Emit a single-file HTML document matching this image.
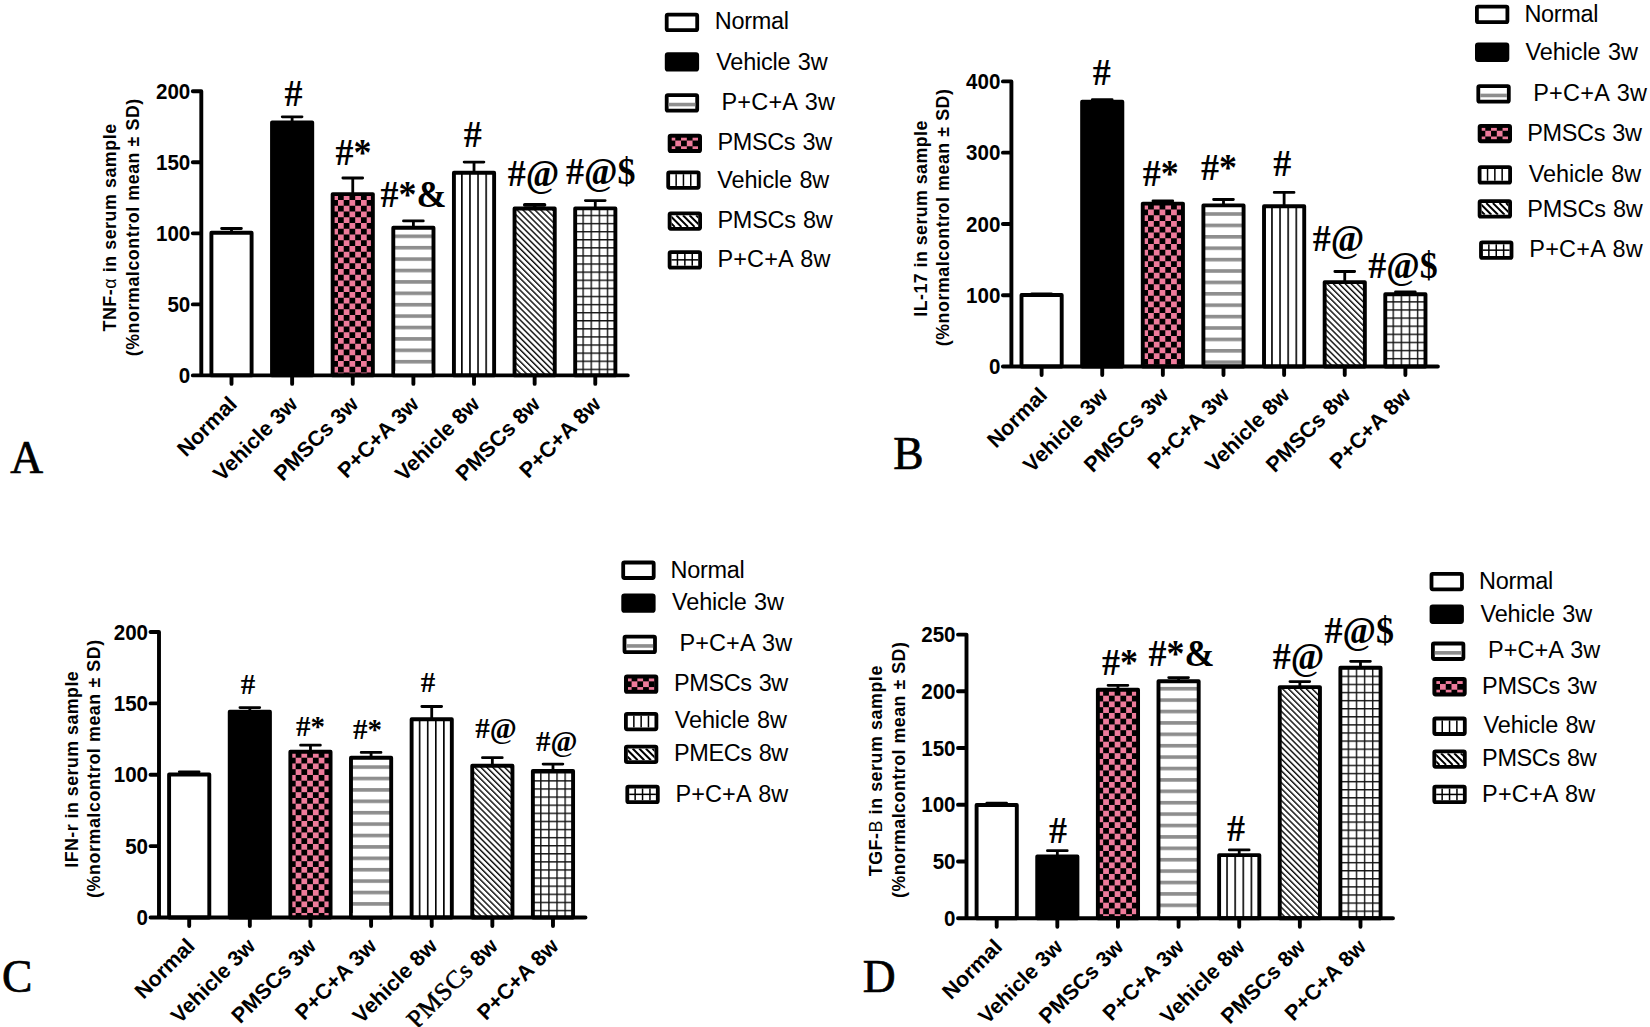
<!DOCTYPE html>
<html lang="en"><head><meta charset="utf-8"><title>Figure</title>
<style>
html,body{margin:0;padding:0;background:#fff;}
body{width:1650px;height:1027px;overflow:hidden;}
svg{display:block;}
text{fill:#000;}
</style></head><body>
<svg width="1650" height="1027" viewBox="0 0 1650 1027">
<rect width="1650" height="1027" fill="#fff"/>
<defs>
<pattern id="p1" patternUnits="userSpaceOnUse" x="326.46" y="194.25" width="11.5" height="11.5"><rect width="11.5" height="11.5" fill="#ee7b9b"/><rect x="0" y="0" width="5.75" height="5.75" fill="#000"/><rect x="5.75" y="5.75" width="5.75" height="5.75" fill="#000"/></pattern>
<pattern id="p2" patternUnits="userSpaceOnUse" x="393.29" y="17.90" width="11.4" height="11.4"><rect width="11.4" height="11.4" fill="#fff"/><rect x="0" y="0" width="11.4" height="3.6" fill="#8e8e8e"/></pattern>
<pattern id="p3" patternUnits="userSpaceOnUse" x="452.97" y="172.70" width="8.1" height="8.1"><rect width="8.1" height="8.1" fill="#fff"/><rect x="0" y="0" width="1.6" height="8.1" fill="#000"/></pattern>
<pattern id="p4" patternUnits="userSpaceOnUse" x="514.55" y="208.50" width="4.2" height="4.2" patternTransform="rotate(-45 514.55 208.50)"><rect width="4.2" height="4.2" fill="#fff"/><rect x="0" y="0" width="1.45" height="4.2" fill="#111"/></pattern>
<pattern id="p5" patternUnits="userSpaceOnUse" x="574.33" y="44.65" width="8.1" height="8.1"><rect width="8.1" height="8.1" fill="#fff"/><rect x="0" y="0" width="1.4" height="8.1" fill="#111"/><rect x="0" y="0" width="8.1" height="1.4" fill="#111"/></pattern>
<pattern id="p6" patternUnits="userSpaceOnUse" x="663.80" y="134.80" width="11.5" height="11.5"><rect width="11.5" height="11.5" fill="#ee7b9b"/><rect x="0" y="0" width="5.75" height="5.75" fill="#000"/><rect x="5.75" y="5.75" width="5.75" height="5.75" fill="#000"/></pattern>
<clipPath id="c7"><rect x="671.50" y="215.20" width="26.70" height="11.70"/></clipPath>
<pattern id="p8" patternUnits="userSpaceOnUse" x="1136.56" y="203.75" width="11.5" height="11.5"><rect width="11.5" height="11.5" fill="#ee7b9b"/><rect x="0" y="0" width="5.75" height="5.75" fill="#000"/><rect x="5.75" y="5.75" width="5.75" height="5.75" fill="#000"/></pattern>
<pattern id="p9" patternUnits="userSpaceOnUse" x="1203.39" y="18.40" width="11.4" height="11.4"><rect width="11.4" height="11.4" fill="#fff"/><rect x="0" y="0" width="11.4" height="3.6" fill="#8e8e8e"/></pattern>
<pattern id="p10" patternUnits="userSpaceOnUse" x="1263.07" y="206.20" width="8.1" height="8.1"><rect width="8.1" height="8.1" fill="#fff"/><rect x="0" y="0" width="1.6" height="8.1" fill="#000"/></pattern>
<pattern id="p11" patternUnits="userSpaceOnUse" x="1324.65" y="282.10" width="4.2" height="4.2" patternTransform="rotate(-45 1324.65 282.10)"><rect width="4.2" height="4.2" fill="#fff"/><rect x="0" y="0" width="1.45" height="4.2" fill="#111"/></pattern>
<pattern id="p12" patternUnits="userSpaceOnUse" x="1384.43" y="33.90" width="8.1" height="8.1"><rect width="8.1" height="8.1" fill="#fff"/><rect x="0" y="0" width="1.4" height="8.1" fill="#111"/><rect x="0" y="0" width="8.1" height="1.4" fill="#111"/></pattern>
<pattern id="p13" patternUnits="userSpaceOnUse" x="1473.80" y="125.00" width="11.5" height="11.5"><rect width="11.5" height="11.5" fill="#ee7b9b"/><rect x="0" y="0" width="5.75" height="5.75" fill="#000"/><rect x="5.75" y="5.75" width="5.75" height="5.75" fill="#000"/></pattern>
<clipPath id="c14"><rect x="1481.50" y="203.10" width="26.70" height="11.70"/></clipPath>
<pattern id="p15" patternUnits="userSpaceOnUse" x="284.16" y="751.95" width="11.5" height="11.5"><rect width="11.5" height="11.5" fill="#ee7b9b"/><rect x="0" y="0" width="5.75" height="5.75" fill="#000"/><rect x="5.75" y="5.75" width="5.75" height="5.75" fill="#000"/></pattern>
<pattern id="p16" patternUnits="userSpaceOnUse" x="350.99" y="560.10" width="11.4" height="11.4"><rect width="11.4" height="11.4" fill="#fff"/><rect x="0" y="0" width="11.4" height="3.6" fill="#8e8e8e"/></pattern>
<pattern id="p17" patternUnits="userSpaceOnUse" x="410.67" y="719.30" width="8.1" height="8.1"><rect width="8.1" height="8.1" fill="#fff"/><rect x="0" y="0" width="1.6" height="8.1" fill="#000"/></pattern>
<pattern id="p18" patternUnits="userSpaceOnUse" x="472.25" y="765.70" width="4.2" height="4.2" patternTransform="rotate(-45 472.25 765.70)"><rect width="4.2" height="4.2" fill="#fff"/><rect x="0" y="0" width="1.45" height="4.2" fill="#111"/></pattern>
<pattern id="p19" patternUnits="userSpaceOnUse" x="532.03" y="585.80" width="8.1" height="8.1"><rect width="8.1" height="8.1" fill="#fff"/><rect x="0" y="0" width="1.4" height="8.1" fill="#111"/><rect x="0" y="0" width="8.1" height="1.4" fill="#111"/></pattern>
<pattern id="p20" patternUnits="userSpaceOnUse" x="620.10" y="675.60" width="11.5" height="11.5"><rect width="11.5" height="11.5" fill="#ee7b9b"/><rect x="0" y="0" width="5.75" height="5.75" fill="#000"/><rect x="5.75" y="5.75" width="5.75" height="5.75" fill="#000"/></pattern>
<clipPath id="c21"><rect x="627.80" y="748.50" width="26.70" height="11.70"/></clipPath>
<pattern id="p22" patternUnits="userSpaceOnUse" x="1091.66" y="689.95" width="11.5" height="11.5"><rect width="11.5" height="11.5" fill="#ee7b9b"/><rect x="0" y="0" width="5.75" height="5.75" fill="#000"/><rect x="5.75" y="5.75" width="5.75" height="5.75" fill="#000"/></pattern>
<pattern id="p23" patternUnits="userSpaceOnUse" x="1158.49" y="561.50" width="11.4" height="11.4"><rect width="11.4" height="11.4" fill="#fff"/><rect x="0" y="0" width="11.4" height="3.6" fill="#8e8e8e"/></pattern>
<pattern id="p24" patternUnits="userSpaceOnUse" x="1218.17" y="855.10" width="8.1" height="8.1"><rect width="8.1" height="8.1" fill="#fff"/><rect x="0" y="0" width="1.6" height="8.1" fill="#000"/></pattern>
<pattern id="p25" patternUnits="userSpaceOnUse" x="1279.75" y="687.10" width="4.2" height="4.2" patternTransform="rotate(-45 1279.75 687.10)"><rect width="4.2" height="4.2" fill="#fff"/><rect x="0" y="0" width="1.45" height="4.2" fill="#111"/></pattern>
<pattern id="p26" patternUnits="userSpaceOnUse" x="1339.53" y="586.50" width="8.1" height="8.1"><rect width="8.1" height="8.1" fill="#fff"/><rect x="0" y="0" width="1.4" height="8.1" fill="#111"/><rect x="0" y="0" width="8.1" height="1.4" fill="#111"/></pattern>
<pattern id="p27" patternUnits="userSpaceOnUse" x="1428.50" y="678.20" width="11.5" height="11.5"><rect width="11.5" height="11.5" fill="#ee7b9b"/><rect x="0" y="0" width="5.75" height="5.75" fill="#000"/><rect x="5.75" y="5.75" width="5.75" height="5.75" fill="#000"/></pattern>
<clipPath id="c28"><rect x="1436.20" y="753.20" width="26.70" height="11.70"/></clipPath>
</defs>
<path d="M231.50 232.80V228.50M221.60 228.50H241.40" stroke="#000" stroke-width="2.8" stroke-linecap="round" fill="none"/>
<rect x="211.40" y="232.80" width="40.2" height="142.60" fill="#fff" stroke="#000" stroke-width="3.9" stroke-linejoin="round"/>
<path d="M292.13 122.40V116.80M282.23 116.80H302.03" stroke="#000" stroke-width="2.8" stroke-linecap="round" fill="none"/>
<rect x="272.03" y="122.40" width="40.2" height="253.00" fill="#000" stroke="#000" stroke-width="3.9" stroke-linejoin="round"/>
<path d="M352.76 194.10V178.00M342.86 178.00H362.66" stroke="#000" stroke-width="2.8" stroke-linecap="round" fill="none"/>
<rect x="332.66" y="194.10" width="40.2" height="181.30" fill="url(#p1)" stroke="#000" stroke-width="3.9" stroke-linejoin="round"/>
<path d="M413.39 227.70V220.90M403.49 220.90H423.29" stroke="#000" stroke-width="2.8" stroke-linecap="round" fill="none"/>
<rect x="393.29" y="227.70" width="40.2" height="147.70" fill="url(#p2)" stroke="#000" stroke-width="3.9" stroke-linejoin="round"/>
<rect x="395.09" y="370.80" width="36.60" height="3" fill="#fff"/>
<path d="M474.02 172.70V162.10M464.12 162.10H483.92" stroke="#000" stroke-width="2.8" stroke-linecap="round" fill="none"/>
<rect x="453.92" y="172.70" width="40.2" height="202.70" fill="url(#p3)" stroke="#000" stroke-width="3.9" stroke-linejoin="round"/>
<path d="M534.65 208.50V204.90M524.75 204.90H544.55" stroke="#000" stroke-width="3.6" stroke-linecap="round" fill="none"/>
<rect x="514.55" y="208.50" width="40.2" height="166.90" fill="url(#p4)" stroke="#000" stroke-width="3.9" stroke-linejoin="round"/>
<path d="M595.28 208.40V200.60M585.38 200.60H605.18" stroke="#000" stroke-width="2.8" stroke-linecap="round" fill="none"/>
<rect x="575.18" y="208.40" width="40.2" height="167.00" fill="url(#p5)" stroke="#000" stroke-width="3.9" stroke-linejoin="round"/>
<path d="M201.30 375.40V91.30M201.30 375.40h-8.5M201.30 304.38h-8.5M201.30 233.35h-8.5M201.30 162.32h-8.5M201.30 91.30h-8.5M192.80 375.40H627.80M231.50 375.40v8.5M292.13 375.40v8.5M352.76 375.40v8.5M413.39 375.40v8.5M474.02 375.40v8.5M534.65 375.40v8.5M595.28 375.40v8.5" stroke="#000" stroke-width="3.9" stroke-linecap="round" stroke-linejoin="round" fill="none"/>
<text transform="translate(190.30 383.00) scale(0.935 1)" font-family="'Liberation Sans', Arial, Helvetica, sans-serif" font-size="22" font-weight="bold" text-anchor="end" >0</text>
<text transform="translate(190.30 311.98) scale(0.935 1)" font-family="'Liberation Sans', Arial, Helvetica, sans-serif" font-size="22" font-weight="bold" text-anchor="end" >50</text>
<text transform="translate(190.30 240.95) scale(0.935 1)" font-family="'Liberation Sans', Arial, Helvetica, sans-serif" font-size="22" font-weight="bold" text-anchor="end" >100</text>
<text transform="translate(190.30 169.92) scale(0.935 1)" font-family="'Liberation Sans', Arial, Helvetica, sans-serif" font-size="22" font-weight="bold" text-anchor="end" >150</text>
<text transform="translate(190.30 98.90) scale(0.935 1)" font-family="'Liberation Sans', Arial, Helvetica, sans-serif" font-size="22" font-weight="bold" text-anchor="end" >200</text>
<text transform="translate(238.30 405.40) rotate(-45)" font-family="'Liberation Sans', Arial, Helvetica, sans-serif" font-size="21.5" font-weight="bold" text-anchor="end" >Normal</text>
<text transform="translate(298.93 405.40) rotate(-45)" font-family="'Liberation Sans', Arial, Helvetica, sans-serif" font-size="21.5" font-weight="bold" text-anchor="end" >Vehicle 3w</text>
<text transform="translate(359.56 405.40) rotate(-45)" font-family="'Liberation Sans', Arial, Helvetica, sans-serif" font-size="21.5" font-weight="bold" text-anchor="end" >PMSCs 3w</text>
<text transform="translate(420.19 405.40) rotate(-45)" font-family="'Liberation Sans', Arial, Helvetica, sans-serif" font-size="21.5" font-weight="bold" text-anchor="end" >P+C+A 3w</text>
<text transform="translate(480.82 405.40) rotate(-45)" font-family="'Liberation Sans', Arial, Helvetica, sans-serif" font-size="21.5" font-weight="bold" text-anchor="end" >Vehicle 8w</text>
<text transform="translate(541.45 405.40) rotate(-45)" font-family="'Liberation Sans', Arial, Helvetica, sans-serif" font-size="21.5" font-weight="bold" text-anchor="end" >PMSCs 8w</text>
<text transform="translate(602.08 405.40) rotate(-45)" font-family="'Liberation Sans', Arial, Helvetica, sans-serif" font-size="21.5" font-weight="bold" text-anchor="end" >P+C+A 8w</text>
<text transform="translate(116.40 227.70) rotate(-90)" font-family="'Liberation Sans', Arial, Helvetica, sans-serif" font-size="17.8" font-weight="bold" text-anchor="middle" textLength="207.60" lengthAdjust="spacing" >TNF-<tspan font-weight="normal">α</tspan> in serum sample</text>
<text transform="translate(139.40 227.50) rotate(-90)" font-family="'Liberation Sans', Arial, Helvetica, sans-serif" font-size="17.8" font-weight="bold" text-anchor="middle" textLength="257.60" lengthAdjust="spacing" >(%normalcontrol mean ± SD)</text>
<text transform="translate(293.40 105.90) scale(1 1.05)" font-family="'Liberation Serif', 'Times New Roman', Times, serif" font-size="36" font-weight="bold" text-anchor="middle" >#</text>
<text transform="translate(353.40 165.00) scale(1 1.05)" font-family="'Liberation Serif', 'Times New Roman', Times, serif" font-size="36" font-weight="bold" text-anchor="middle" >#*</text>
<text transform="translate(413.60 207.10) scale(1 1.05)" font-family="'Liberation Serif', 'Times New Roman', Times, serif" font-size="36" font-weight="bold" text-anchor="middle" >#*&amp;</text>
<text transform="translate(472.70 146.80) scale(1 1.05)" font-family="'Liberation Serif', 'Times New Roman', Times, serif" font-size="36" font-weight="bold" text-anchor="middle" >#</text>
<text transform="translate(533.60 186.30) scale(1 1.05)" font-family="'Liberation Serif', 'Times New Roman', Times, serif" font-size="36" font-weight="bold" text-anchor="middle" >#@</text>
<text transform="translate(600.70 183.50) scale(1 1.05)" font-family="'Liberation Serif', 'Times New Roman', Times, serif" font-size="36" font-weight="bold" text-anchor="middle" >#@$</text>
<rect x="666.70" y="14.60" width="30.5" height="15.5" rx="1.2" fill="#fff" stroke="#000" stroke-width="3.8"/>
<text transform="translate(714.70 29.40) scale(1.03 1.05)" font-family="'Liberation Sans', Arial, Helvetica, sans-serif" font-size="22.8" font-weight="normal" text-anchor="start" textLength="72.23" lengthAdjust="spacing" word-spacing="1">Normal</text>
<rect x="666.70" y="54.20" width="30.5" height="15.5" rx="1.2" fill="#000" stroke="#000" stroke-width="3.8"/>
<text transform="translate(716.20 69.50) scale(1.03 1.05)" font-family="'Liberation Sans', Arial, Helvetica, sans-serif" font-size="22.8" font-weight="normal" text-anchor="start" textLength="108.16" lengthAdjust="spacing" word-spacing="1">Vehicle 3w</text>
<rect x="666.70" y="95.20" width="30.5" height="15.5" rx="1.2" fill="#fff" stroke="#000" stroke-width="3.8"/>
<rect x="668.60" y="102.75" width="26.70" height="3.6" fill="#8e8e8e"/>
<text transform="translate(721.40 109.90) scale(1.03 1.05)" font-family="'Liberation Sans', Arial, Helvetica, sans-serif" font-size="22.8" font-weight="normal" text-anchor="start" textLength="110.29" lengthAdjust="spacing" word-spacing="1">P+C+A 3w</text>
<rect x="669.60" y="135.60" width="30.5" height="15.5" rx="1.2" fill="#000" stroke="#000" stroke-width="3.8"/>
<rect x="671.70" y="137.70" width="26.30" height="11.30" fill="url(#p6)"/>
<text transform="translate(717.50 150.30) scale(1.03 1.05)" font-family="'Liberation Sans', Arial, Helvetica, sans-serif" font-size="22.8" font-weight="normal" text-anchor="start" textLength="111.26" lengthAdjust="spacing" word-spacing="1">PMSCs 3w</text>
<rect x="668.20" y="172.30" width="30.5" height="15.5" rx="1.2" fill="#fff" stroke="#000" stroke-width="3.8"/>
<rect x="675.40" y="174.20" width="1.5" height="11.70" fill="#000"/>
<rect x="682.70" y="174.20" width="1.5" height="11.70" fill="#000"/>
<rect x="690.00" y="174.20" width="1.5" height="11.70" fill="#000"/>
<text transform="translate(717.30 187.60) scale(1.03 1.05)" font-family="'Liberation Sans', Arial, Helvetica, sans-serif" font-size="22.8" font-weight="normal" text-anchor="start" textLength="108.74" lengthAdjust="spacing" word-spacing="1">Vehicle 8w</text>
<rect x="669.60" y="213.30" width="30.5" height="15.5" rx="1.2" fill="#fff" stroke="#000" stroke-width="3.8"/>
<path d="M656.50 215.20l11.70 11.70M663.10 215.20l11.70 11.70M669.70 215.20l11.70 11.70M676.30 215.20l11.70 11.70M682.90 215.20l11.70 11.70M689.50 215.20l11.70 11.70M696.10 215.20l11.70 11.70" stroke="#000" stroke-width="2" clip-path="url(#c7)"/>
<text transform="translate(717.50 227.90) scale(1.03 1.05)" font-family="'Liberation Sans', Arial, Helvetica, sans-serif" font-size="22.8" font-weight="normal" text-anchor="start" textLength="111.84" lengthAdjust="spacing" word-spacing="1">PMSCs 8w</text>
<rect x="669.60" y="252.10" width="30.5" height="15.5" rx="1.2" fill="#fff" stroke="#000" stroke-width="3.8"/>
<rect x="676.70" y="254.00" width="1.5" height="11.70" fill="#000"/>
<rect x="684.10" y="254.00" width="1.5" height="11.70" fill="#000"/>
<rect x="691.50" y="254.00" width="1.5" height="11.70" fill="#000"/>
<rect x="671.50" y="259.10" width="26.70" height="1.5" fill="#000"/>
<text transform="translate(717.50 266.60) scale(1.03 1.05)" font-family="'Liberation Sans', Arial, Helvetica, sans-serif" font-size="22.8" font-weight="normal" text-anchor="start" textLength="109.61" lengthAdjust="spacing" word-spacing="1">P+C+A 8w</text>
<text x="10.30" y="472.70" font-family="'Liberation Serif', 'Times New Roman', Times, serif" font-size="45.5" font-weight="normal" text-anchor="start" stroke="#000" stroke-width="0.7">A</text>
<path d="M1041.60 295.00V294.00M1031.70 294.00H1051.50" stroke="#000" stroke-width="2.8" stroke-linecap="round" fill="none"/>
<rect x="1021.50" y="295.00" width="40.2" height="71.50" fill="#fff" stroke="#000" stroke-width="3.9" stroke-linejoin="round"/>
<path d="M1102.23 101.80V99.60M1092.33 99.60H1112.13" stroke="#000" stroke-width="2.8" stroke-linecap="round" fill="none"/>
<rect x="1082.13" y="101.80" width="40.2" height="264.70" fill="#000" stroke="#000" stroke-width="3.9" stroke-linejoin="round"/>
<path d="M1162.86 203.60V200.90M1152.96 200.90H1172.76" stroke="#000" stroke-width="2.8" stroke-linecap="round" fill="none"/>
<rect x="1142.76" y="203.60" width="40.2" height="162.90" fill="url(#p8)" stroke="#000" stroke-width="3.9" stroke-linejoin="round"/>
<path d="M1223.49 205.40V199.50M1213.59 199.50H1233.39" stroke="#000" stroke-width="2.8" stroke-linecap="round" fill="none"/>
<rect x="1203.39" y="205.40" width="40.2" height="161.10" fill="url(#p9)" stroke="#000" stroke-width="3.9" stroke-linejoin="round"/>
<path d="M1284.12 206.20V192.40M1274.22 192.40H1294.02" stroke="#000" stroke-width="2.8" stroke-linecap="round" fill="none"/>
<rect x="1264.02" y="206.20" width="40.2" height="160.30" fill="url(#p10)" stroke="#000" stroke-width="3.9" stroke-linejoin="round"/>
<path d="M1344.75 282.10V271.50M1334.85 271.50H1354.65" stroke="#000" stroke-width="2.8" stroke-linecap="round" fill="none"/>
<rect x="1324.65" y="282.10" width="40.2" height="84.40" fill="url(#p11)" stroke="#000" stroke-width="3.9" stroke-linejoin="round"/>
<path d="M1405.38 294.30V291.90M1395.48 291.90H1415.28" stroke="#000" stroke-width="2.8" stroke-linecap="round" fill="none"/>
<rect x="1385.28" y="294.30" width="40.2" height="72.20" fill="url(#p12)" stroke="#000" stroke-width="3.9" stroke-linejoin="round"/>
<path d="M1011.40 366.50V81.40M1011.40 366.50h-8.5M1011.40 295.23h-8.5M1011.40 223.95h-8.5M1011.40 152.67h-8.5M1011.40 81.40h-8.5M1002.90 366.50H1437.90M1041.60 366.50v8.5M1102.23 366.50v8.5M1162.86 366.50v8.5M1223.49 366.50v8.5M1284.12 366.50v8.5M1344.75 366.50v8.5M1405.38 366.50v8.5" stroke="#000" stroke-width="3.9" stroke-linecap="round" stroke-linejoin="round" fill="none"/>
<text transform="translate(1000.40 374.10) scale(0.935 1)" font-family="'Liberation Sans', Arial, Helvetica, sans-serif" font-size="22" font-weight="bold" text-anchor="end" >0</text>
<text transform="translate(1000.40 302.83) scale(0.935 1)" font-family="'Liberation Sans', Arial, Helvetica, sans-serif" font-size="22" font-weight="bold" text-anchor="end" >100</text>
<text transform="translate(1000.40 231.55) scale(0.935 1)" font-family="'Liberation Sans', Arial, Helvetica, sans-serif" font-size="22" font-weight="bold" text-anchor="end" >200</text>
<text transform="translate(1000.40 160.27) scale(0.935 1)" font-family="'Liberation Sans', Arial, Helvetica, sans-serif" font-size="22" font-weight="bold" text-anchor="end" >300</text>
<text transform="translate(1000.40 89.00) scale(0.935 1)" font-family="'Liberation Sans', Arial, Helvetica, sans-serif" font-size="22" font-weight="bold" text-anchor="end" >400</text>
<text transform="translate(1048.40 396.50) rotate(-45)" font-family="'Liberation Sans', Arial, Helvetica, sans-serif" font-size="21.5" font-weight="bold" text-anchor="end" >Normal</text>
<text transform="translate(1109.03 396.50) rotate(-45)" font-family="'Liberation Sans', Arial, Helvetica, sans-serif" font-size="21.5" font-weight="bold" text-anchor="end" >Vehicle 3w</text>
<text transform="translate(1169.66 396.50) rotate(-45)" font-family="'Liberation Sans', Arial, Helvetica, sans-serif" font-size="21.5" font-weight="bold" text-anchor="end" >PMSCs 3w</text>
<text transform="translate(1230.29 396.50) rotate(-45)" font-family="'Liberation Sans', Arial, Helvetica, sans-serif" font-size="21.5" font-weight="bold" text-anchor="end" >P+C+A 3w</text>
<text transform="translate(1290.92 396.50) rotate(-45)" font-family="'Liberation Sans', Arial, Helvetica, sans-serif" font-size="21.5" font-weight="bold" text-anchor="end" >Vehicle 8w</text>
<text transform="translate(1351.55 396.50) rotate(-45)" font-family="'Liberation Sans', Arial, Helvetica, sans-serif" font-size="21.5" font-weight="bold" text-anchor="end" >PMSCs 8w</text>
<text transform="translate(1412.18 396.50) rotate(-45)" font-family="'Liberation Sans', Arial, Helvetica, sans-serif" font-size="21.5" font-weight="bold" text-anchor="end" >P+C+A 8w</text>
<text transform="translate(926.60 218.65) rotate(-90)" font-family="'Liberation Sans', Arial, Helvetica, sans-serif" font-size="17.8" font-weight="bold" text-anchor="middle" textLength="196.00" lengthAdjust="spacing" >IL-17 in serum sample</text>
<text transform="translate(949.40 217.65) rotate(-90)" font-family="'Liberation Sans', Arial, Helvetica, sans-serif" font-size="17.8" font-weight="bold" text-anchor="middle" textLength="257.20" lengthAdjust="spacing" >(%normalcontrol mean ± SD)</text>
<text transform="translate(1101.80 84.80) scale(1 1.05)" font-family="'Liberation Serif', 'Times New Roman', Times, serif" font-size="36" font-weight="bold" text-anchor="middle" >#</text>
<text transform="translate(1160.70 186.10) scale(1 1.05)" font-family="'Liberation Serif', 'Times New Roman', Times, serif" font-size="36" font-weight="bold" text-anchor="middle" >#*</text>
<text transform="translate(1218.90 179.50) scale(1 1.05)" font-family="'Liberation Serif', 'Times New Roman', Times, serif" font-size="36" font-weight="bold" text-anchor="middle" >#*</text>
<text transform="translate(1282.20 176.00) scale(1 1.05)" font-family="'Liberation Serif', 'Times New Roman', Times, serif" font-size="36" font-weight="bold" text-anchor="middle" >#</text>
<text transform="translate(1338.60 251.30) scale(1 1.05)" font-family="'Liberation Serif', 'Times New Roman', Times, serif" font-size="36" font-weight="bold" text-anchor="middle" >#@</text>
<text transform="translate(1402.90 277.80) scale(1 1.05)" font-family="'Liberation Serif', 'Times New Roman', Times, serif" font-size="36" font-weight="bold" text-anchor="middle" >#@$</text>
<rect x="1476.90" y="6.60" width="30.5" height="15.5" rx="1.2" fill="#fff" stroke="#000" stroke-width="3.8"/>
<text transform="translate(1524.40 21.60) scale(1.03 1.05)" font-family="'Liberation Sans', Arial, Helvetica, sans-serif" font-size="22.8" font-weight="normal" text-anchor="start" textLength="72.04" lengthAdjust="spacing" word-spacing="1">Normal</text>
<rect x="1476.90" y="44.50" width="30.5" height="15.5" rx="1.2" fill="#000" stroke="#000" stroke-width="3.8"/>
<text transform="translate(1525.40 59.80) scale(1.03 1.05)" font-family="'Liberation Sans', Arial, Helvetica, sans-serif" font-size="22.8" font-weight="normal" text-anchor="start" textLength="109.22" lengthAdjust="spacing" word-spacing="1">Vehicle 3w</text>
<rect x="1478.30" y="86.10" width="30.5" height="15.5" rx="1.2" fill="#fff" stroke="#000" stroke-width="3.8"/>
<rect x="1480.20" y="93.65" width="26.70" height="3.6" fill="#8e8e8e"/>
<text transform="translate(1533.20 101.20) scale(1.03 1.05)" font-family="'Liberation Sans', Arial, Helvetica, sans-serif" font-size="22.8" font-weight="normal" text-anchor="start" textLength="110.39" lengthAdjust="spacing" word-spacing="1">P+C+A 3w</text>
<rect x="1479.60" y="125.80" width="30.5" height="15.5" rx="1.2" fill="#000" stroke="#000" stroke-width="3.8"/>
<rect x="1481.70" y="127.90" width="26.30" height="11.30" fill="url(#p13)"/>
<text transform="translate(1527.20 140.80) scale(1.03 1.05)" font-family="'Liberation Sans', Arial, Helvetica, sans-serif" font-size="22.8" font-weight="normal" text-anchor="start" textLength="111.46" lengthAdjust="spacing" word-spacing="1">PMSCs 3w</text>
<rect x="1479.60" y="167.10" width="30.5" height="15.5" rx="1.2" fill="#fff" stroke="#000" stroke-width="3.8"/>
<rect x="1486.80" y="169.00" width="1.5" height="11.70" fill="#000"/>
<rect x="1494.10" y="169.00" width="1.5" height="11.70" fill="#000"/>
<rect x="1501.40" y="169.00" width="1.5" height="11.70" fill="#000"/>
<text transform="translate(1528.70 181.90) scale(1.03 1.05)" font-family="'Liberation Sans', Arial, Helvetica, sans-serif" font-size="22.8" font-weight="normal" text-anchor="start" textLength="109.22" lengthAdjust="spacing" word-spacing="1">Vehicle 8w</text>
<rect x="1479.60" y="201.20" width="30.5" height="15.5" rx="1.2" fill="#fff" stroke="#000" stroke-width="3.8"/>
<path d="M1466.50 203.10l11.70 11.70M1473.10 203.10l11.70 11.70M1479.70 203.10l11.70 11.70M1486.30 203.10l11.70 11.70M1492.90 203.10l11.70 11.70M1499.50 203.10l11.70 11.70M1506.10 203.10l11.70 11.70" stroke="#000" stroke-width="2" clip-path="url(#c14)"/>
<text transform="translate(1527.20 216.50) scale(1.03 1.05)" font-family="'Liberation Sans', Arial, Helvetica, sans-serif" font-size="22.8" font-weight="normal" text-anchor="start" textLength="112.23" lengthAdjust="spacing" word-spacing="1">PMSCs 8w</text>
<rect x="1481.00" y="242.40" width="30.5" height="15.5" rx="1.2" fill="#fff" stroke="#000" stroke-width="3.8"/>
<rect x="1488.10" y="244.30" width="1.5" height="11.70" fill="#000"/>
<rect x="1495.50" y="244.30" width="1.5" height="11.70" fill="#000"/>
<rect x="1502.90" y="244.30" width="1.5" height="11.70" fill="#000"/>
<rect x="1482.90" y="249.40" width="26.70" height="1.5" fill="#000"/>
<text transform="translate(1529.30 257.40) scale(1.03 1.05)" font-family="'Liberation Sans', Arial, Helvetica, sans-serif" font-size="22.8" font-weight="normal" text-anchor="start" textLength="110.19" lengthAdjust="spacing" word-spacing="1">P+C+A 8w</text>
<text x="893.20" y="468.60" font-family="'Liberation Serif', 'Times New Roman', Times, serif" font-size="45.5" font-weight="normal" text-anchor="start" stroke="#000" stroke-width="0.7">B</text>
<path d="M189.20 774.50V771.80M179.30 771.80H199.10" stroke="#000" stroke-width="2.8" stroke-linecap="round" fill="none"/>
<rect x="169.10" y="774.50" width="40.2" height="143.00" fill="#fff" stroke="#000" stroke-width="3.9" stroke-linejoin="round"/>
<path d="M249.83 711.80V707.60M239.93 707.60H259.73" stroke="#000" stroke-width="2.8" stroke-linecap="round" fill="none"/>
<rect x="229.73" y="711.80" width="40.2" height="205.70" fill="#000" stroke="#000" stroke-width="3.9" stroke-linejoin="round"/>
<path d="M310.46 751.80V745.20M300.56 745.20H320.36" stroke="#000" stroke-width="2.8" stroke-linecap="round" fill="none"/>
<rect x="290.36" y="751.80" width="40.2" height="165.70" fill="url(#p15)" stroke="#000" stroke-width="3.9" stroke-linejoin="round"/>
<path d="M371.09 757.70V752.40M361.19 752.40H380.99" stroke="#000" stroke-width="2.8" stroke-linecap="round" fill="none"/>
<rect x="350.99" y="757.70" width="40.2" height="159.80" fill="url(#p16)" stroke="#000" stroke-width="3.9" stroke-linejoin="round"/>
<rect x="352.79" y="912.90" width="36.60" height="3" fill="#fff"/>
<path d="M431.72 719.30V706.50M421.82 706.50H441.62" stroke="#000" stroke-width="2.8" stroke-linecap="round" fill="none"/>
<rect x="411.62" y="719.30" width="40.2" height="198.20" fill="url(#p17)" stroke="#000" stroke-width="3.9" stroke-linejoin="round"/>
<path d="M492.35 765.70V757.70M482.45 757.70H502.25" stroke="#000" stroke-width="2.8" stroke-linecap="round" fill="none"/>
<rect x="472.25" y="765.70" width="40.2" height="151.80" fill="url(#p18)" stroke="#000" stroke-width="3.9" stroke-linejoin="round"/>
<path d="M552.98 771.00V764.10M543.08 764.10H562.88" stroke="#000" stroke-width="2.8" stroke-linecap="round" fill="none"/>
<rect x="532.88" y="771.00" width="40.2" height="146.50" fill="url(#p19)" stroke="#000" stroke-width="3.9" stroke-linejoin="round"/>
<path d="M159.00 917.50V632.00M159.00 917.50h-8.5M159.00 846.12h-8.5M159.00 774.75h-8.5M159.00 703.38h-8.5M159.00 632.00h-8.5M150.50 917.50H585.50M189.20 917.50v8.5M249.83 917.50v8.5M310.46 917.50v8.5M371.09 917.50v8.5M431.72 917.50v8.5M492.35 917.50v8.5M552.98 917.50v8.5" stroke="#000" stroke-width="3.9" stroke-linecap="round" stroke-linejoin="round" fill="none"/>
<text transform="translate(148.00 925.10) scale(0.935 1)" font-family="'Liberation Sans', Arial, Helvetica, sans-serif" font-size="22" font-weight="bold" text-anchor="end" >0</text>
<text transform="translate(148.00 853.73) scale(0.935 1)" font-family="'Liberation Sans', Arial, Helvetica, sans-serif" font-size="22" font-weight="bold" text-anchor="end" >50</text>
<text transform="translate(148.00 782.35) scale(0.935 1)" font-family="'Liberation Sans', Arial, Helvetica, sans-serif" font-size="22" font-weight="bold" text-anchor="end" >100</text>
<text transform="translate(148.00 710.98) scale(0.935 1)" font-family="'Liberation Sans', Arial, Helvetica, sans-serif" font-size="22" font-weight="bold" text-anchor="end" >150</text>
<text transform="translate(148.00 639.60) scale(0.935 1)" font-family="'Liberation Sans', Arial, Helvetica, sans-serif" font-size="22" font-weight="bold" text-anchor="end" >200</text>
<text transform="translate(196.00 947.50) rotate(-45)" font-family="'Liberation Sans', Arial, Helvetica, sans-serif" font-size="21.5" font-weight="bold" text-anchor="end" >Normal</text>
<text transform="translate(256.63 947.50) rotate(-45)" font-family="'Liberation Sans', Arial, Helvetica, sans-serif" font-size="21.5" font-weight="bold" text-anchor="end" >Vehicle 3w</text>
<text transform="translate(317.26 947.50) rotate(-45)" font-family="'Liberation Sans', Arial, Helvetica, sans-serif" font-size="21.5" font-weight="bold" text-anchor="end" >PMSCs 3w</text>
<text transform="translate(377.89 947.50) rotate(-45)" font-family="'Liberation Sans', Arial, Helvetica, sans-serif" font-size="21.5" font-weight="bold" text-anchor="end" >P+C+A 3w</text>
<text transform="translate(438.52 947.50) rotate(-45)" font-family="'Liberation Sans', Arial, Helvetica, sans-serif" font-size="21.5" font-weight="bold" text-anchor="end" >Vehicle 8w</text>
<text transform="translate(499.15 947.50) rotate(-45)" font-family="'Liberation Sans', Arial, Helvetica, sans-serif" font-size="21.5" font-weight="bold" text-anchor="end" ><tspan font-family="'Liberation Serif', 'Times New Roman', Times, serif" font-weight="normal" font-size="25.5" letter-spacing="0.7" stroke="#000" stroke-width="0.6">PMSCs</tspan> 8w</text>
<text transform="translate(559.78 947.50) rotate(-45)" font-family="'Liberation Sans', Arial, Helvetica, sans-serif" font-size="21.5" font-weight="bold" text-anchor="end" >P+C+A 8w</text>
<text transform="translate(77.80 769.50) rotate(-90)" font-family="'Liberation Sans', Arial, Helvetica, sans-serif" font-size="17.8" font-weight="bold" text-anchor="middle" textLength="196.50" lengthAdjust="spacing" >IFN-r in serum sample</text>
<text transform="translate(99.90 768.90) rotate(-90)" font-family="'Liberation Sans', Arial, Helvetica, sans-serif" font-size="17.8" font-weight="bold" text-anchor="middle" textLength="258.10" lengthAdjust="spacing" >(%normalcontrol mean ± SD)</text>
<text transform="translate(248.00 694.00) scale(1 1.05)" font-family="'Liberation Serif', 'Times New Roman', Times, serif" font-size="29" font-weight="bold" text-anchor="middle" >#</text>
<text transform="translate(310.60 735.90) scale(1 1.05)" font-family="'Liberation Serif', 'Times New Roman', Times, serif" font-size="29" font-weight="bold" text-anchor="middle" >#*</text>
<text transform="translate(367.50 739.30) scale(1 1.05)" font-family="'Liberation Serif', 'Times New Roman', Times, serif" font-size="29" font-weight="bold" text-anchor="middle" >#*</text>
<text transform="translate(428.00 692.10) scale(1 1.05)" font-family="'Liberation Serif', 'Times New Roman', Times, serif" font-size="29" font-weight="bold" text-anchor="middle" >#</text>
<text transform="translate(496.00 738.00) scale(1 1.05)" font-family="'Liberation Serif', 'Times New Roman', Times, serif" font-size="29" font-weight="bold" text-anchor="middle" >#@</text>
<text transform="translate(556.80 750.80) scale(1 1.05)" font-family="'Liberation Serif', 'Times New Roman', Times, serif" font-size="29" font-weight="bold" text-anchor="middle" >#@</text>
<rect x="623.20" y="562.50" width="30.5" height="15.5" rx="1.2" fill="#fff" stroke="#000" stroke-width="3.8"/>
<text transform="translate(670.50 577.50) scale(1.03 1.05)" font-family="'Liberation Sans', Arial, Helvetica, sans-serif" font-size="22.8" font-weight="normal" text-anchor="start" textLength="72.04" lengthAdjust="spacing" word-spacing="1">Normal</text>
<rect x="623.20" y="595.40" width="30.5" height="15.5" rx="1.2" fill="#000" stroke="#000" stroke-width="3.8"/>
<text transform="translate(672.00 610.30) scale(1.03 1.05)" font-family="'Liberation Sans', Arial, Helvetica, sans-serif" font-size="22.8" font-weight="normal" text-anchor="start" textLength="108.74" lengthAdjust="spacing" word-spacing="1">Vehicle 3w</text>
<rect x="624.50" y="636.60" width="30.5" height="15.5" rx="1.2" fill="#fff" stroke="#000" stroke-width="3.8"/>
<rect x="626.40" y="644.15" width="26.70" height="3.6" fill="#8e8e8e"/>
<text transform="translate(679.50 651.20) scale(1.03 1.05)" font-family="'Liberation Sans', Arial, Helvetica, sans-serif" font-size="22.8" font-weight="normal" text-anchor="start" textLength="109.42" lengthAdjust="spacing" word-spacing="1">P+C+A 3w</text>
<rect x="625.90" y="676.40" width="30.5" height="15.5" rx="1.2" fill="#000" stroke="#000" stroke-width="3.8"/>
<rect x="628.00" y="678.50" width="26.30" height="11.30" fill="url(#p20)"/>
<text transform="translate(674.00 691.30) scale(1.03 1.05)" font-family="'Liberation Sans', Arial, Helvetica, sans-serif" font-size="22.8" font-weight="normal" text-anchor="start" textLength="110.97" lengthAdjust="spacing" word-spacing="1">PMSCs 3w</text>
<rect x="625.90" y="713.80" width="30.5" height="15.5" rx="1.2" fill="#fff" stroke="#000" stroke-width="3.8"/>
<rect x="633.10" y="715.70" width="1.5" height="11.70" fill="#000"/>
<rect x="640.40" y="715.70" width="1.5" height="11.70" fill="#000"/>
<rect x="647.70" y="715.70" width="1.5" height="11.70" fill="#000"/>
<text transform="translate(674.70 728.10) scale(1.03 1.05)" font-family="'Liberation Sans', Arial, Helvetica, sans-serif" font-size="22.8" font-weight="normal" text-anchor="start" textLength="109.03" lengthAdjust="spacing" word-spacing="1">Vehicle 8w</text>
<rect x="625.90" y="746.60" width="30.5" height="15.5" rx="1.2" fill="#fff" stroke="#000" stroke-width="3.8"/>
<path d="M612.80 748.50l11.70 11.70M619.40 748.50l11.70 11.70M626.00 748.50l11.70 11.70M632.60 748.50l11.70 11.70M639.20 748.50l11.70 11.70M645.80 748.50l11.70 11.70M652.40 748.50l11.70 11.70" stroke="#000" stroke-width="2" clip-path="url(#c21)"/>
<text transform="translate(674.00 761.10) scale(1.03 1.05)" font-family="'Liberation Sans', Arial, Helvetica, sans-serif" font-size="22.8" font-weight="normal" text-anchor="start" textLength="110.97" lengthAdjust="spacing" word-spacing="1">PMECs 8w</text>
<rect x="627.30" y="786.60" width="30.5" height="15.5" rx="1.2" fill="#fff" stroke="#000" stroke-width="3.8"/>
<rect x="634.40" y="788.50" width="1.5" height="11.70" fill="#000"/>
<rect x="641.80" y="788.50" width="1.5" height="11.70" fill="#000"/>
<rect x="649.20" y="788.50" width="1.5" height="11.70" fill="#000"/>
<rect x="629.20" y="793.60" width="26.70" height="1.5" fill="#000"/>
<text transform="translate(675.40 801.70) scale(1.03 1.05)" font-family="'Liberation Sans', Arial, Helvetica, sans-serif" font-size="22.8" font-weight="normal" text-anchor="start" textLength="109.61" lengthAdjust="spacing" word-spacing="1">P+C+A 8w</text>
<text x="2.00" y="992.00" font-family="'Liberation Serif', 'Times New Roman', Times, serif" font-size="45.5" font-weight="normal" text-anchor="start" stroke="#000" stroke-width="0.7">C</text>
<path d="M996.70 805.00V803.20M986.80 803.20H1006.60" stroke="#000" stroke-width="2.8" stroke-linecap="round" fill="none"/>
<rect x="976.60" y="805.00" width="40.2" height="113.20" fill="#fff" stroke="#000" stroke-width="3.9" stroke-linejoin="round"/>
<path d="M1057.33 856.50V850.70M1047.43 850.70H1067.23" stroke="#000" stroke-width="2.8" stroke-linecap="round" fill="none"/>
<rect x="1037.23" y="856.50" width="40.2" height="61.70" fill="#000" stroke="#000" stroke-width="3.9" stroke-linejoin="round"/>
<path d="M1117.96 689.80V685.30M1108.06 685.30H1127.86" stroke="#000" stroke-width="2.8" stroke-linecap="round" fill="none"/>
<rect x="1097.86" y="689.80" width="40.2" height="228.40" fill="url(#p22)" stroke="#000" stroke-width="3.9" stroke-linejoin="round"/>
<path d="M1178.59 681.30V677.60M1168.69 677.60H1188.49" stroke="#000" stroke-width="2.8" stroke-linecap="round" fill="none"/>
<rect x="1158.49" y="681.30" width="40.2" height="236.90" fill="url(#p23)" stroke="#000" stroke-width="3.9" stroke-linejoin="round"/>
<rect x="1160.29" y="913.60" width="36.60" height="3" fill="#fff"/>
<path d="M1239.22 855.10V849.90M1229.32 849.90H1249.12" stroke="#000" stroke-width="2.8" stroke-linecap="round" fill="none"/>
<rect x="1219.12" y="855.10" width="40.2" height="63.10" fill="url(#p24)" stroke="#000" stroke-width="3.9" stroke-linejoin="round"/>
<path d="M1299.85 687.10V681.60M1289.95 681.60H1309.75" stroke="#000" stroke-width="2.8" stroke-linecap="round" fill="none"/>
<rect x="1279.75" y="687.10" width="40.2" height="231.10" fill="url(#p25)" stroke="#000" stroke-width="3.9" stroke-linejoin="round"/>
<path d="M1360.48 667.70V661.30M1350.58 661.30H1370.38" stroke="#000" stroke-width="2.8" stroke-linecap="round" fill="none"/>
<rect x="1340.38" y="667.70" width="40.2" height="250.50" fill="url(#p26)" stroke="#000" stroke-width="3.9" stroke-linejoin="round"/>
<path d="M966.50 918.20V634.60M966.50 918.20h-8.5M966.50 861.48h-8.5M966.50 804.76h-8.5M966.50 748.04h-8.5M966.50 691.32h-8.5M966.50 634.60h-8.5M958.00 918.20H1393.00M996.70 918.20v8.5M1057.33 918.20v8.5M1117.96 918.20v8.5M1178.59 918.20v8.5M1239.22 918.20v8.5M1299.85 918.20v8.5M1360.48 918.20v8.5" stroke="#000" stroke-width="3.9" stroke-linecap="round" stroke-linejoin="round" fill="none"/>
<text transform="translate(955.50 925.80) scale(0.935 1)" font-family="'Liberation Sans', Arial, Helvetica, sans-serif" font-size="22" font-weight="bold" text-anchor="end" >0</text>
<text transform="translate(955.50 869.08) scale(0.935 1)" font-family="'Liberation Sans', Arial, Helvetica, sans-serif" font-size="22" font-weight="bold" text-anchor="end" >50</text>
<text transform="translate(955.50 812.36) scale(0.935 1)" font-family="'Liberation Sans', Arial, Helvetica, sans-serif" font-size="22" font-weight="bold" text-anchor="end" >100</text>
<text transform="translate(955.50 755.64) scale(0.935 1)" font-family="'Liberation Sans', Arial, Helvetica, sans-serif" font-size="22" font-weight="bold" text-anchor="end" >150</text>
<text transform="translate(955.50 698.92) scale(0.935 1)" font-family="'Liberation Sans', Arial, Helvetica, sans-serif" font-size="22" font-weight="bold" text-anchor="end" >200</text>
<text transform="translate(955.50 642.20) scale(0.935 1)" font-family="'Liberation Sans', Arial, Helvetica, sans-serif" font-size="22" font-weight="bold" text-anchor="end" >250</text>
<text transform="translate(1003.50 948.20) rotate(-45)" font-family="'Liberation Sans', Arial, Helvetica, sans-serif" font-size="21.5" font-weight="bold" text-anchor="end" >Normal</text>
<text transform="translate(1064.13 948.20) rotate(-45)" font-family="'Liberation Sans', Arial, Helvetica, sans-serif" font-size="21.5" font-weight="bold" text-anchor="end" >Vehicle 3w</text>
<text transform="translate(1124.76 948.20) rotate(-45)" font-family="'Liberation Sans', Arial, Helvetica, sans-serif" font-size="21.5" font-weight="bold" text-anchor="end" >PMSCs 3w</text>
<text transform="translate(1185.39 948.20) rotate(-45)" font-family="'Liberation Sans', Arial, Helvetica, sans-serif" font-size="21.5" font-weight="bold" text-anchor="end" >P+C+A 3w</text>
<text transform="translate(1246.02 948.20) rotate(-45)" font-family="'Liberation Sans', Arial, Helvetica, sans-serif" font-size="21.5" font-weight="bold" text-anchor="end" >Vehicle 8w</text>
<text transform="translate(1306.65 948.20) rotate(-45)" font-family="'Liberation Sans', Arial, Helvetica, sans-serif" font-size="21.5" font-weight="bold" text-anchor="end" >PMSCs 8w</text>
<text transform="translate(1367.28 948.20) rotate(-45)" font-family="'Liberation Sans', Arial, Helvetica, sans-serif" font-size="21.5" font-weight="bold" text-anchor="end" >P+C+A 8w</text>
<text transform="translate(882.20 771.00) rotate(-90)" font-family="'Liberation Sans', Arial, Helvetica, sans-serif" font-size="17.8" font-weight="bold" text-anchor="middle" textLength="210.60" lengthAdjust="spacing" >TGF-<tspan font-weight="normal">Β</tspan> in serum sample</text>
<text transform="translate(904.90 770.10) rotate(-90)" font-family="'Liberation Sans', Arial, Helvetica, sans-serif" font-size="17.8" font-weight="bold" text-anchor="middle" textLength="255.90" lengthAdjust="spacing" >(%normalcontrol mean ± SD)</text>
<text transform="translate(1058.00 842.70) scale(1 1.05)" font-family="'Liberation Serif', 'Times New Roman', Times, serif" font-size="36" font-weight="bold" text-anchor="middle" >#</text>
<text transform="translate(1120.00 674.70) scale(1 1.05)" font-family="'Liberation Serif', 'Times New Roman', Times, serif" font-size="36" font-weight="bold" text-anchor="middle" >#*</text>
<text transform="translate(1181.60 666.10) scale(1 1.05)" font-family="'Liberation Serif', 'Times New Roman', Times, serif" font-size="36" font-weight="bold" text-anchor="middle" >#*&amp;</text>
<text transform="translate(1236.10 840.80) scale(1 1.05)" font-family="'Liberation Serif', 'Times New Roman', Times, serif" font-size="36" font-weight="bold" text-anchor="middle" >#</text>
<text transform="translate(1298.40 668.50) scale(1 1.05)" font-family="'Liberation Serif', 'Times New Roman', Times, serif" font-size="36" font-weight="bold" text-anchor="middle" >#@</text>
<text transform="translate(1359.30 642.70) scale(1 1.05)" font-family="'Liberation Serif', 'Times New Roman', Times, serif" font-size="36" font-weight="bold" text-anchor="middle" >#@$</text>
<rect x="1431.50" y="573.80" width="30.5" height="15.5" rx="1.2" fill="#fff" stroke="#000" stroke-width="3.8"/>
<text transform="translate(1479.10 589.40) scale(1.03 1.05)" font-family="'Liberation Sans', Arial, Helvetica, sans-serif" font-size="22.8" font-weight="normal" text-anchor="start" textLength="72.04" lengthAdjust="spacing" word-spacing="1">Normal</text>
<rect x="1431.50" y="606.50" width="30.5" height="15.5" rx="1.2" fill="#000" stroke="#000" stroke-width="3.8"/>
<text transform="translate(1480.60 621.60) scale(1.03 1.05)" font-family="'Liberation Sans', Arial, Helvetica, sans-serif" font-size="22.8" font-weight="normal" text-anchor="start" textLength="108.25" lengthAdjust="spacing" word-spacing="1">Vehicle 3w</text>
<rect x="1432.90" y="643.50" width="30.5" height="15.5" rx="1.2" fill="#fff" stroke="#000" stroke-width="3.8"/>
<rect x="1434.80" y="651.05" width="26.70" height="3.6" fill="#8e8e8e"/>
<text transform="translate(1488.10 658.40) scale(1.03 1.05)" font-family="'Liberation Sans', Arial, Helvetica, sans-serif" font-size="22.8" font-weight="normal" text-anchor="start" textLength="108.83" lengthAdjust="spacing" word-spacing="1">P+C+A 3w</text>
<rect x="1434.30" y="679.00" width="30.5" height="15.5" rx="1.2" fill="#000" stroke="#000" stroke-width="3.8"/>
<rect x="1436.40" y="681.10" width="26.30" height="11.30" fill="url(#p27)"/>
<text transform="translate(1482.10 693.90) scale(1.03 1.05)" font-family="'Liberation Sans', Arial, Helvetica, sans-serif" font-size="22.8" font-weight="normal" text-anchor="start" textLength="111.26" lengthAdjust="spacing" word-spacing="1">PMSCs 3w</text>
<rect x="1434.30" y="718.50" width="30.5" height="15.5" rx="1.2" fill="#fff" stroke="#000" stroke-width="3.8"/>
<rect x="1441.50" y="720.40" width="1.5" height="11.70" fill="#000"/>
<rect x="1448.80" y="720.40" width="1.5" height="11.70" fill="#000"/>
<rect x="1456.10" y="720.40" width="1.5" height="11.70" fill="#000"/>
<text transform="translate(1483.60 733.40) scale(1.03 1.05)" font-family="'Liberation Sans', Arial, Helvetica, sans-serif" font-size="22.8" font-weight="normal" text-anchor="start" textLength="108.45" lengthAdjust="spacing" word-spacing="1">Vehicle 8w</text>
<rect x="1434.30" y="751.30" width="30.5" height="15.5" rx="1.2" fill="#fff" stroke="#000" stroke-width="3.8"/>
<path d="M1421.20 753.20l11.70 11.70M1427.80 753.20l11.70 11.70M1434.40 753.20l11.70 11.70M1441.00 753.20l11.70 11.70M1447.60 753.20l11.70 11.70M1454.20 753.20l11.70 11.70M1460.80 753.20l11.70 11.70" stroke="#000" stroke-width="2" clip-path="url(#c28)"/>
<text transform="translate(1482.10 766.20) scale(1.03 1.05)" font-family="'Liberation Sans', Arial, Helvetica, sans-serif" font-size="22.8" font-weight="normal" text-anchor="start" textLength="111.26" lengthAdjust="spacing" word-spacing="1">PMSCs 8w</text>
<rect x="1434.30" y="786.70" width="30.5" height="15.5" rx="1.2" fill="#fff" stroke="#000" stroke-width="3.8"/>
<rect x="1441.40" y="788.60" width="1.5" height="11.70" fill="#000"/>
<rect x="1448.80" y="788.60" width="1.5" height="11.70" fill="#000"/>
<rect x="1456.20" y="788.60" width="1.5" height="11.70" fill="#000"/>
<rect x="1436.20" y="793.70" width="26.70" height="1.5" fill="#000"/>
<text transform="translate(1482.10 801.60) scale(1.03 1.05)" font-family="'Liberation Sans', Arial, Helvetica, sans-serif" font-size="22.8" font-weight="normal" text-anchor="start" textLength="109.90" lengthAdjust="spacing" word-spacing="1">P+C+A 8w</text>
<text x="862.70" y="992.40" font-family="'Liberation Serif', 'Times New Roman', Times, serif" font-size="45.5" font-weight="normal" text-anchor="start" stroke="#000" stroke-width="0.7">D</text>
</svg>
</body></html>
